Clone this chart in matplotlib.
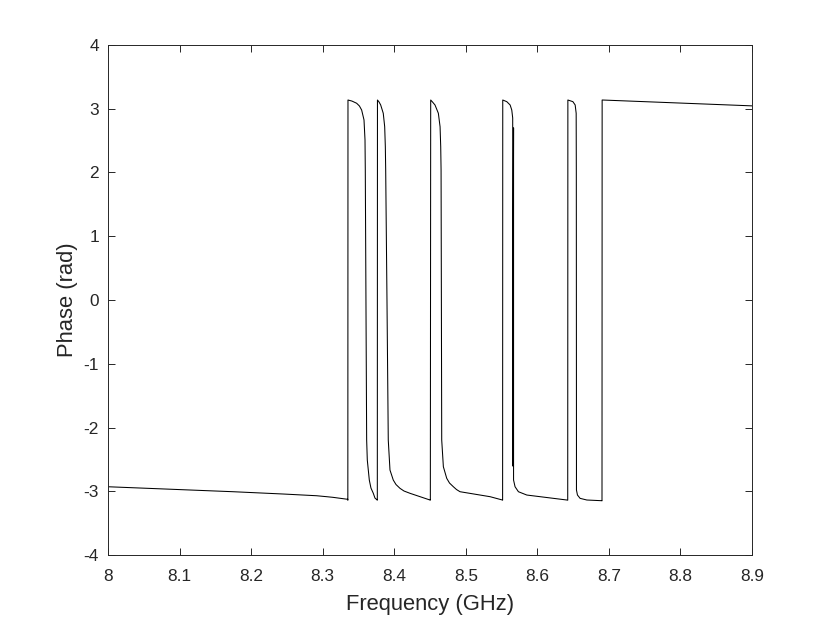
import numpy as np
import matplotlib
matplotlib.use("Agg")
import matplotlib.pyplot as plt

# Phase response (GHz, rad)
freq_ghz = [
    8.0000, 8.1750, 8.2449, 8.2916, 8.3056, 8.3144, 8.3350, 8.3352,
    # resonance 1
    8.3354, 8.3410, 8.3475, 8.3514, 8.3545, 8.3578, 8.3592, 8.3596, 8.3615,
    8.3624, 8.3652, 8.3675, 8.3708, 8.3731, 8.3762, 8.3764,
    # resonance 2
    8.3766, 8.3788, 8.3811, 8.3847, 8.3867, 8.3876, 8.3881, 8.3899, 8.3917,
    8.3941, 8.3987, 8.4025, 8.4081, 8.4137, 8.4221, 8.4500, 8.4505,
    # resonance 3
    8.4510, 8.4535, 8.4570, 8.4590, 8.4617, 8.4641, 8.4650, 8.4655, 8.4664,
    8.4687, 8.4734, 8.4773, 8.4827, 8.4871, 8.4920, 8.5340, 8.5512, 8.5515,
    # resonance 4 (with small double trace)
    8.5517, 8.5573, 8.5620, 8.5643, 8.5656, 8.5656, 8.5668,
    8.5668, 8.5689, 8.5736, 8.5853, 8.6413, 8.6425,
    # resonance 5
    8.6427, 8.6497, 8.6529, 8.6543, 8.6545, 8.6547, 8.6547,
    8.6561, 8.6598, 8.6692, 8.6902, 8.6904,
    # tail
    8.6906, 8.9000,
]
phase_rad = [
    -2.929, -3.007, -3.043, -3.070, -3.085, -3.095, -3.126, -3.140,
    3.137, 3.120, 3.086, 3.043, 2.980, 2.824, 2.510, 2.039, -2.196,
    -2.510, -2.824, -2.949, -3.032, -3.106, -3.137, -3.140,
    3.137, 3.106, 3.059, 2.929, 2.718, 2.405, 2.039, 0.000, -2.196,
    -2.667, -2.824, -2.894, -2.954, -2.996, -3.032, -3.137, -3.140,
    3.137, 3.106, 3.059, 3.004, 2.929, 2.718, 2.405, 2.039, -2.196,
    -2.615, -2.797, -2.871, -2.929, -2.973, -3.007, -3.085, -3.137, -3.140,
    3.137, 3.111, 3.059, 2.980, 2.855, -2.604, 2.700,
    -2.824, -2.929, -3.007, -3.059, -3.137, -3.140,
    3.137, 3.111, 3.059, 2.929, 2.039, -2.196, -2.980,
    -3.059, -3.111, -3.137, -3.148, -3.150,
    3.137, 3.045,
]

x_ticks = [8.0, 8.1, 8.2, 8.3, 8.4, 8.5, 8.6, 8.7, 8.8, 8.9]
x_ticklabels = ["8", "8.1", "8.2", "8.3", "8.4", "8.5", "8.6", "8.7", "8.8", "8.9"]
y_ticks = [-4, -3, -2, -1, 0, 1, 2, 3, 4]

plt.rcParams['font.family'] = ['Liberation Sans', 'DejaVu Sans']
plt.rcParams['axes.unicode_minus'] = False

fig = plt.figure(figsize=(8.3, 6.23), dpi=100, facecolor='w')
ax = fig.add_axes([0.1301, 0.1091, 0.7759, 0.8187])

ax.plot(freq_ghz, phase_rad, color='k', linewidth=0.75)

ax.set_xlim(8.0, 8.9)
ax.set_ylim(-4, 4)
ax.set_xticks(x_ticks)
ax.set_xticklabels(x_ticklabels)
ax.set_yticks(y_ticks)

axis_col = '#262626'
for s in ax.spines.values():
    s.set_color(axis_col)
    s.set_linewidth(0.7)
ax.tick_params(direction='in', top=True, right=True, length=4.7, width=0.7,
               color=axis_col, labelcolor=axis_col, labelsize=12.4)
ax.tick_params(axis='x', pad=10)
ax.tick_params(axis='y', pad=6.5)

ax.set_xlabel('Frequency (GHz)', fontsize=15.8, color=axis_col, labelpad=7.5)
ax.set_ylabel('Phase (rad)', fontsize=15.8, color=axis_col, labelpad=4)

fig.savefig('out.png', dpi=100, facecolor='w')
